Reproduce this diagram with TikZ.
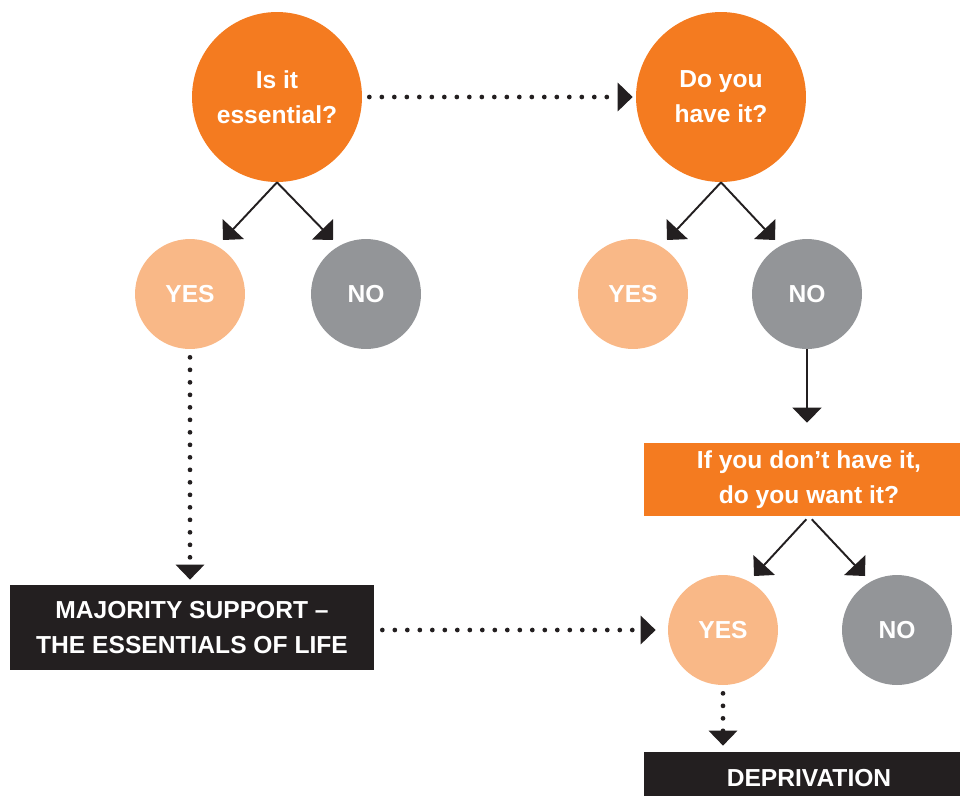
\documentclass[tikz,border=0pt]{standalone}
\usepackage{fontspec}
\setmainfont{Liberation Sans}
\usetikzlibrary{arrows.meta}
\definecolor{essorange}{HTML}{F47B20}
\definecolor{esspeach}{HTML}{F9B887}
\definecolor{essgray}{HTML}{939598}
\definecolor{essblack}{HTML}{231F20}

\begin{document}
\begin{tikzpicture}[x=0.02cm,y=-0.02cm,
  txt/.style={text=white,font=\fontsize{14}{20}\selectfont\bfseries,align=center},
  ask/.style={txt,circle,fill=essorange,minimum size=3.4cm,inner sep=0pt},
  yesball/.style={txt,circle,fill=esspeach,minimum size=2.2cm,inner sep=0pt},
  noball/.style={txt,circle,fill=essgray,minimum size=2.2cm,inner sep=0pt},
  askbox/.style={txt,rectangle,fill=essorange,minimum width=6.6cm,minimum height=1.46cm,inner sep=0pt},
  answer/.style={txt,rectangle,fill=essblack,inner sep=0pt},
  solidarr/.style={draw=essblack,line width=1.1pt,-{Triangle[width=0.58cm,length=0.3cm]}},
  dotarr/.style={draw=essblack,line width=2.7pt,line cap=round,dash pattern=on 0pt off 0.25cm,-{Triangle[width=0.56cm,length=0.3cm]}}]
  \useasboundingbox (0,0) rectangle (960,795);
  \clip (0,0) rectangle (960,795);

  % questions
  \node[ask] (q1) at (277,97) {Is it\\essential?};
  \node[ask] (q2) at (721,97) {Do you\\have it?};
  \node[askbox] (want) at (809,479.5) {If you don’t have it,\\do you want it?};

  % answers
  \node[yesball] (yes1) at (190,294) {YES};
  \node[noball] (no1) at (366,294) {NO};
  \node[yesball] (yes2) at (633,294) {YES};
  \node[noball] (no2) at (807,294) {NO};
  \node[yesball] (yes3) at (723,630) {YES};
  \node[noball] (no3) at (897,630) {NO};

  % outcomes
  \node[answer,minimum width=7.28cm,minimum height=1.7cm] (ess) at (192,627.5) {MAJORITY SUPPORT –\\THE ESSENTIALS OF LIFE};
  \node[answer,minimum width=6.6cm,minimum height=1.06cm] (depriv) at (809,778.5) {DEPRIVATION};

  % arrow ends
  \coordinate (q1l) at (223,240);
  \coordinate (q1r) at (333,240);
  \coordinate (q2l) at (667,240);
  \coordinate (q2r) at (775,240);
  \coordinate (wantl) at (754,576);
  \coordinate (wantr) at (865,576);

  \draw[solidarr] (q1.south) -- (q1l);
  \draw[solidarr] (q1.south) -- (q1r);
  \draw[solidarr] (q2.south) -- (q2l);
  \draw[solidarr] (q2.south) -- (q2r);
  \draw[solidarr] (no2.south) -- (no2.south |- want.north) [shorten >=0.4cm];
  \draw[solidarr,shorten <=0.08cm] (want.south) -- (wantl);
  \draw[solidarr,shorten <=0.08cm] (want.south) -- (wantr);

  \draw[dotarr,shorten <=0.14cm,shorten >=0.06cm] (q1.east) -- (q2.west);
  \draw[dotarr,shorten <=0.16cm,shorten >=0.1cm] (yes1.south) -- (yes1.south |- ess.north);
  \draw[dotarr,shorten <=0.16cm,shorten >=0.24cm] (ess.east |- yes3) -- (yes3.west);
  \draw[dotarr,shorten <=0.16cm,shorten >=0.12cm] (yes3.south) -- (yes3.south |- depriv.north);
\end{tikzpicture}
\end{document}
